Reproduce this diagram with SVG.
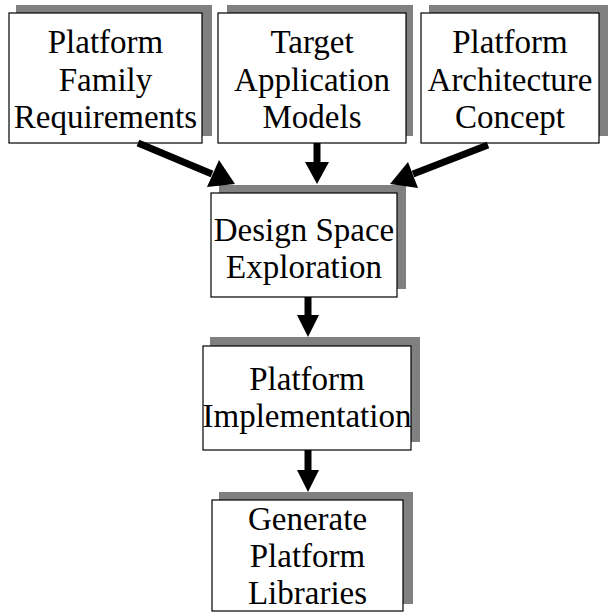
<svg xmlns="http://www.w3.org/2000/svg" width="608" height="613" viewBox="0 0 608 613">
  <style>
    .shadow { fill: #808080; stroke: none; }
    .box { fill: #ffffff; stroke: #000000; stroke-width: 1.2; }
    .label { font-family: "Liberation Serif", "Times New Roman", serif; font-size: 33px; fill: #000000; text-anchor: middle; }
    .shaft { stroke: #000000; stroke-width: 7; fill: none; }
    .head { fill: #000000; stroke: none; }
  </style>
  <rect width="608" height="613" fill="#ffffff"/>

  <g id="node-requirements">
    <rect class="shadow" x="16" y="5" width="196" height="131"/>
    <rect class="box" x="9" y="13" width="193" height="130"/>
    <text class="label" x="105.5" y="53">Platform</text>
    <text class="label" x="105.5" y="91">Family</text>
    <text class="label" x="105.5" y="128">Requirements</text>
  </g>

  <g id="node-models">
    <rect class="shadow" x="227" y="5" width="186" height="131"/>
    <rect class="box" x="218" y="13" width="188" height="130"/>
    <text class="label" x="312" y="53">Target</text>
    <text class="label" x="312" y="91">Application</text>
    <text class="label" x="312" y="128">Models</text>
  </g>

  <g id="node-architecture">
    <rect class="shadow" x="429" y="5" width="179" height="131"/>
    <rect class="box" x="421" y="13" width="178" height="130"/>
    <text class="label" x="510" y="53">Platform</text>
    <text class="label" x="510" y="91">Architecture</text>
    <text class="label" x="510" y="128">Concept</text>
  </g>

  <g id="node-exploration">
    <rect class="shadow" x="219" y="185" width="187" height="104"/>
    <rect class="box" x="211" y="193" width="186" height="104"/>
    <text class="label" x="304" y="241">Design Space</text>
    <text class="label" x="304" y="278">Exploration</text>
  </g>

  <g id="node-implementation">
    <rect class="shadow" x="210" y="337" width="210" height="105"/>
    <rect class="box" x="203" y="346" width="208" height="104"/>
    <text class="label" x="307" y="390">Platform</text>
    <text class="label" x="307" y="427">Implementation</text>
  </g>

  <g id="node-libraries">
    <rect class="shadow" x="219" y="492" width="194" height="112"/>
    <rect class="box" x="212" y="500" width="191" height="111"/>
    <text class="label" x="307.5" y="530">Generate</text>
    <text class="label" x="307.5" y="567">Platform</text>
    <text class="label" x="307.5" y="604">Libraries</text>
  </g>

  <g id="connectors">
    <!-- requirements to exploration -->
    <line class="shaft" x1="138" y1="143" x2="212" y2="174"/>
    <polygon class="head" points="235,184 207,187 219,160"/>
    <!-- models to exploration -->
    <line class="shaft" x1="317" y1="143" x2="317" y2="164"/>
    <polygon class="head" points="317,184 305,162 329,162"/>
    <!-- architecture to exploration -->
    <line class="shaft" x1="488" y1="145" x2="413" y2="174"/>
    <polygon class="head" points="390,184 408,162 418,188"/>
    <!-- exploration to implementation -->
    <line class="shaft" x1="308" y1="297" x2="308" y2="317"/>
    <polygon class="head" points="308,337 297,315 319,315"/>
    <!-- implementation to libraries -->
    <line class="shaft" x1="308" y1="450" x2="308" y2="472"/>
    <polygon class="head" points="308,492 297,470 319,470"/>
  </g>
</svg>
